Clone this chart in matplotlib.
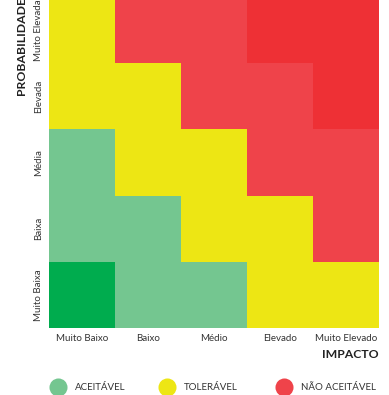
import matplotlib
matplotlib.use("Agg")
import matplotlib.pyplot as plt
from matplotlib.colors import ListedColormap, BoundaryNorm
import numpy as np

impact = ["Muito Baixo", "Baixo", "Médio", "Elevado", "Muito Elevado"]
probability = ["Muito Baixa", "Baixa", "Média", "Elevada", "Muito Elevada"]
# risk level per cell, rows = probability (bottom to top), cols = impact
risk = [
    [0, 1, 1, 2, 2],
    [1, 1, 2, 2, 3],
    [1, 2, 2, 3, 3],
    [2, 2, 3, 3, 4],
    [2, 3, 3, 4, 4],
]
level_colors = ["#00AC4E", "#74C690", "#EDE614", "#EF434A", "#EE3035"]
legend_labels = ["ACEITÁVEL", "TOLERÁVEL", "NÃO ACEITÁVEL"]
legend_colors = ["#74C690", "#EDE614", "#EF434A"]

W, H = 389, 395
fig = plt.figure(figsize=(W / 100, H / 100), dpi=100)
ax = fig.add_axes([49 / W, 67 / H, 330 / W, 331 / H])

cmap = ListedColormap(level_colors)
norm = BoundaryNorm(np.arange(-0.5, len(level_colors) + 0.5), cmap.N)
ax.pcolormesh(np.array(risk), cmap=cmap, norm=norm)
ax.set_xlim(0, 5)
ax.set_ylim(0, 5)
for s in ax.spines.values():
    s.set_visible(False)
tick_font = dict(fontfamily="Lato", fontweight="normal", fontsize=7, color="#333333")
ax.set_xticks(np.arange(5) + 0.5)
ax.set_xticklabels(impact, **tick_font)
ax.set_yticks(np.arange(5) + 0.5)
ax.set_yticklabels(probability, rotation=90, va="center", **tick_font)
ax.tick_params(length=0, pad=4)

fig.text(379 / W, 1 - 354 / H, "IMPACTO", ha="right", va="center",
         fontfamily="Lato", fontweight="bold", fontsize=8.8, color="#222222")
fig.text(22 / W, 1 - 95 / H, "PROBABILIDADE", ha="center", va="bottom", rotation=90,
         fontfamily="Lato", fontweight="bold", fontsize=8.8, color="#222222")

lax = fig.add_axes([0, 0, 1, 1])
lax.set_xlim(0, W)
lax.set_ylim(H, 0)
lax.axis("off")
xs = [58, 167, 284]
for x, lab, col in zip(xs, legend_labels, legend_colors):
    lax.plot([x], [387], "o", markersize=13, color=col, markeredgewidth=0)
    lax.text(x + 17, 387, lab, va="center", ha="left", **tick_font)

fig.savefig("out.png", dpi=100)
